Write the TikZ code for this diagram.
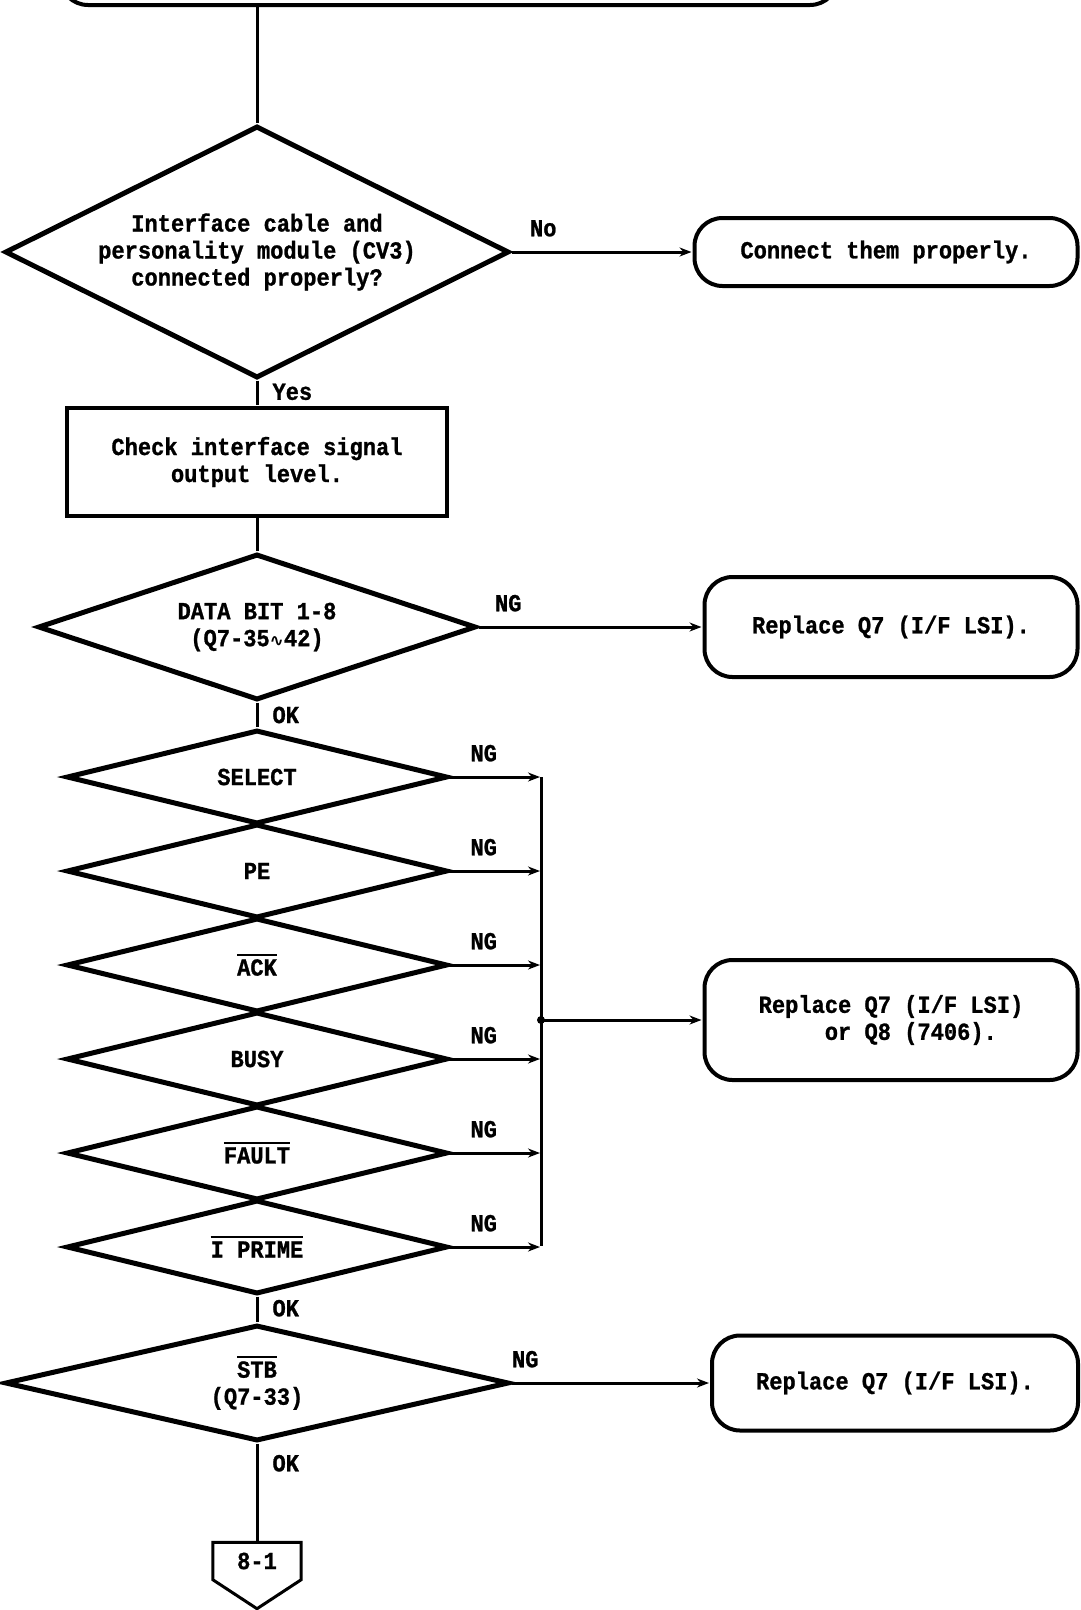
\documentclass[tikz,border=0pt]{standalone}
\usepackage{fontspec}
\setmainfont[FakeStretch=0.9, BoldFeatures={FakeBold=1}]{Liberation Mono}
\newfontfamily\wavefont{DejaVu Sans}
\usetikzlibrary{shapes.geometric, arrows.meta, positioning}
\newcommand\lowsig[1]{\leavevmode\vbox{\hrule height 2pt \kern 3pt \hbox{#1}}}
\begin{document}
\begin{tikzpicture}
        [> = {Stealth[length=12pt, width=9pt]},
            shorten > = 1pt,
            x = 1pt, y = -1pt,
            font = \bfseries\fontsize{24.5}{27}\selectfont,
            link/.style = {line width=3pt},
            decision/.style = {diamond, draw, line width=5pt, aspect=2, inner sep=0pt, align=center},
            check node/.style = {rectangle, draw, line width=4.5pt, align=center},
            result node/.style = {rectangle, rounded corners=28pt, draw, line width=4pt, align=center},
            lbl/.style = {inner sep=2pt}]

        \useasboundingbox (0,0) rectangle (1081,1610);
        \clip (0,0) rectangle (1081,1610);

        \node[result node, minimum width=778pt, minimum height=130pt] (start) at (449,-60) {};

        \node[decision, minimum width=504pt, minimum height=252pt] (D1) at (257,252)
            {Interface cable and\\personality module (CV3)\\connected properly?};
        \node[result node, minimum width=383pt, minimum height=68pt] (fix) [right of=D1, node distance=629pt] {Connect them properly.};
        \node[check node, minimum width=380pt, minimum height=108pt] (chk) [below of=D1, node distance=210pt] {Check interface signal\\output level.};
        \node[decision, minimum width=438pt, minimum height=146pt] (D2) [below of=chk, node distance=165pt]
            {DATA BIT 1-8\\(Q7-35{\wavefont\fontsize{17}{27}\selectfont ∿}42)};
        \node[result node, minimum width=373pt, minimum height=100pt] (rep1) [right of=D2, node distance=634pt] {Replace Q7 (I/F LSI).};

        % signal checks
        \node[decision, minimum width=381pt, minimum height=94pt] (S1) [below of=D2, node distance=150pt] {SELECT};
        \node[decision, minimum width=381pt, minimum height=94pt] (S2) [below of=S1, node distance=94pt] {PE};
        \node[decision, minimum width=381pt, minimum height=94pt] (S3) [below of=S2, node distance=94pt] {\lowsig{ACK}};
        \node[decision, minimum width=381pt, minimum height=94pt] (S4) [below of=S3, node distance=94pt] {BUSY};
        \node[decision, minimum width=381pt, minimum height=94pt] (S5) [below of=S4, node distance=94pt] {\lowsig{FAULT}};
        \node[decision, minimum width=381pt, minimum height=94pt] (S6) [below of=S5, node distance=94pt] {\lowsig{I PRIME}};

        \coordinate (bus) at (541,1020);
        \node[result node, minimum width=373pt, minimum height=120pt, align=left] (rep2) [right of=bus, node distance=350pt]
            {Replace Q7 (I/F LSI)\\\phantom{Repla}or Q8 (7406).};

        \node[decision, minimum width=504pt, minimum height=116pt] (STB) [below of=S6, node distance=136pt] {\lowsig{STB}\\(Q7-33)};
        \node[result node, minimum width=366pt, minimum height=95pt] (rep3) [right of=STB, node distance=638pt] {Replace Q7 (I/F LSI).};

        % off-page connector
        \node[minimum width=88pt, minimum height=37pt, inner sep=0pt] (pg) [below of=STB, node distance=178pt] {8-1};
        \draw[link] (pg.north west) -- (pg.north east) -- (pg.south east) -- ([yshift=-29pt]pg.south) -- (pg.south west) -- cycle;

        \path[link]
        (start.south -| D1) edge (D1)
        (D1) edge node[lbl, right=12pt, pos=0.45] {Yes} (chk)
        (chk) edge (D2)
        (D2) edge node[lbl, right=12pt, pos=0.5] {OK} (S1)
        (S6) edge node[lbl, right=12pt, pos=0.45] {OK} (STB)
        (STB) edge node[lbl, right=12pt, pos=0.2] {OK} (pg);

        \path[link, ->]
        (D1) edge node[lbl, above right=12pt and 15pt, pos=0] {No} (fix)
        (D2) edge node[lbl, above right=12pt and 13pt, pos=0] {NG} (rep1)
        (STB) edge node[lbl, above right=12pt and -3pt, pos=0] {NG} (rep3)
        (S1.east) edge node[lbl, above right=12pt and 17pt, pos=0] {NG} (S1.east -| bus)
        (S2.east) edge node[lbl, above right=12pt and 17pt, pos=0] {NG} (S2.east -| bus)
        (S3.east) edge node[lbl, above right=12pt and 17pt, pos=0] {NG} (S3.east -| bus)
        (S4.east) edge node[lbl, above right=12pt and 17pt, pos=0] {NG} (S4.east -| bus)
        (S5.east) edge node[lbl, above right=12pt and 17pt, pos=0] {NG} (S5.east -| bus)
        (S6.east) edge node[lbl, above right=12pt and 17pt, pos=0] {NG} (S6.east -| bus)
        (bus) edge (rep2);

        \draw[link] (S1.east -| bus) -- (S6.east -| bus);
        \fill (bus) circle (4pt);
    \end{tikzpicture}
\end{document}
